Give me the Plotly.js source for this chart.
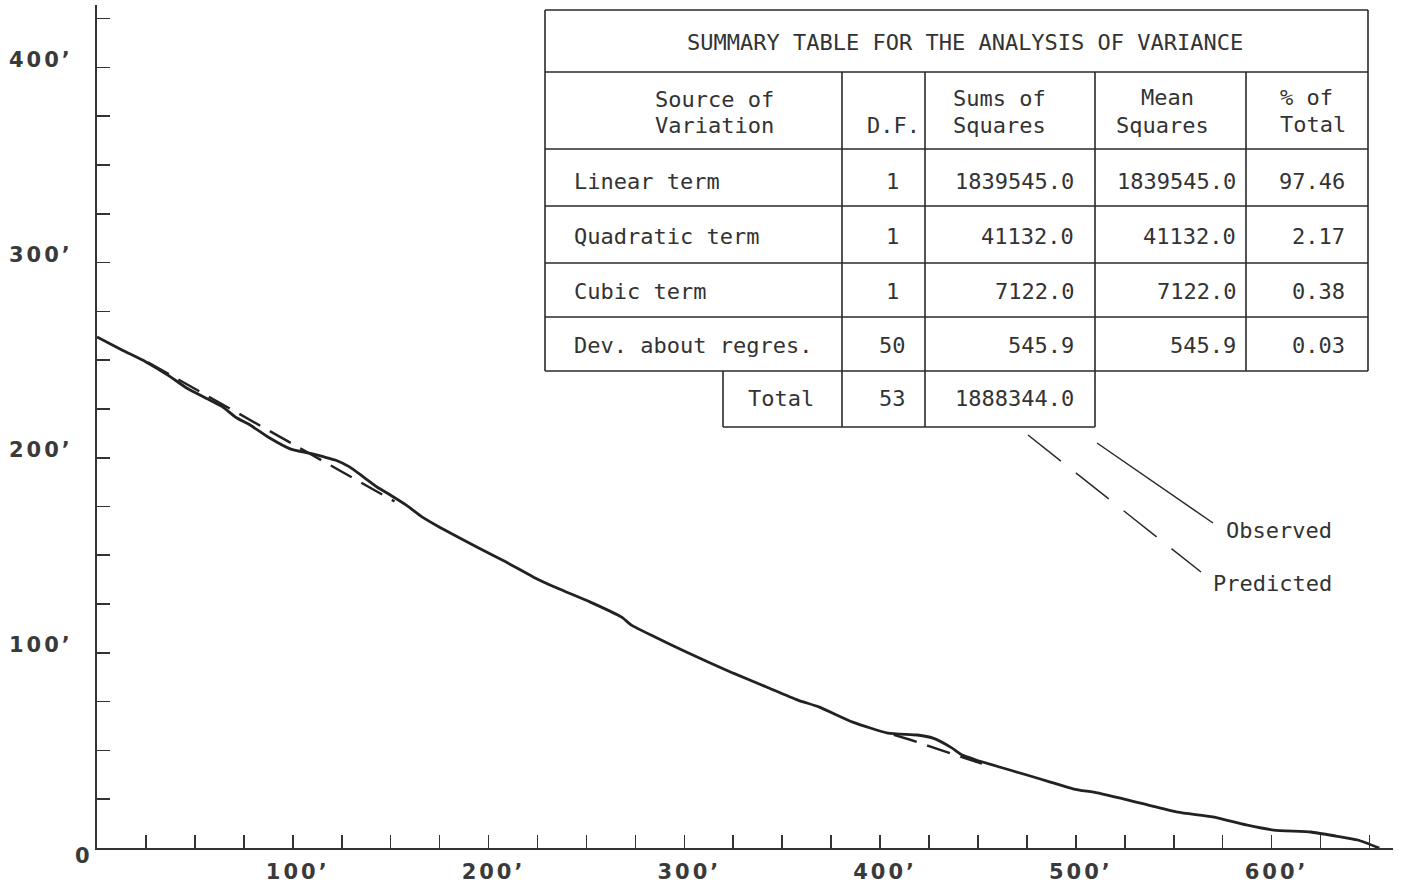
<!DOCTYPE html>
<html>
<head>
<meta charset="utf-8">
<script src="https://cdn.plot.ly/plotly-3.0.1.min.js"></script>
<style>
  html, body { margin: 0; padding: 0; background: #fff; }
  #chart { width: 1402px; height: 887px; }
  .xtick text, .ytick text { letter-spacing: 3px; }
</style>
</head>
<body>
<div id="chart"></div>
<script>
// ---- Data ----
const observedX = [0, 13, 25, 37, 46, 56, 64, 71, 78, 88, 99, 109, 116, 122, 129, 136, 143, 150, 158, 166, 175, 194, 209, 223, 235, 252, 268, 273, 284, 301, 325, 342, 358, 369, 386, 404, 419, 427, 436, 442, 449, 461, 475, 487, 499, 511, 533, 552, 570, 587, 601, 620, 633, 644, 655];
const observedY = [261.9, 255.1, 249.1, 241.8, 235.6, 230.4, 226.2, 220.6, 216.9, 210.2, 204.4, 202.2, 200.4, 198.7, 195.3, 190.2, 185.0, 180.8, 175.7, 169.7, 164.4, 154.2, 146.5, 138.8, 133.2, 126.0, 118.3, 114.2, 108.6, 100.4, 89.6, 82.5, 75.8, 72.2, 64.5, 58.9, 57.9, 56.3, 51.7, 47.6, 45.1, 41.5, 37.4, 33.8, 30.2, 28.2, 23.0, 18.4, 15.9, 11.8, 9.2, 8.2, 6.1, 4.1, 0];

const predictedX = [26, 40, 55, 70, 85, 100, 115, 130, 145, 152, null, 407, 415, 425, 435, 445, 452];
const predictedY = [248.9, 240.9, 232.5, 224.0, 215.5, 207.0, 198.5, 190.0, 181.6, 177.6, null, 58.0, 55.6, 52.2, 48.9, 45.5, 43.2];

const xTickVals = [25,50,75,100,125,150,175,200,225,250,275,300,325,350,375,400,425,450,475,500,525,550,575,600,625,650];
const yTickVals = [25,50,75,100,125,150,175,200,225,250,275,300,325,350,375,400,425];
const labelledTicks = [100, 200, 300, 400, 500, 600];

// ANOVA table
const tableTitle = "SUMMARY TABLE FOR THE ANALYSIS OF VARIANCE";
const sources = ["Linear term", "Quadratic term", "Cubic term", "Dev. about regres."];
const degreesOfFreedom = ["1", "1", "1", "50"];
const sumsOfSquares = ["1839545.0", "41132.0", "7122.0", "545.9"];
const meanSquares = ["1839545.0", "41132.0", "7122.0", "545.9"];
const pctOfTotal = ["97.46", "2.17", "0.38", "0.03"];
const totalLabel = "Total";
const totalDF = "53";
const totalSS = "1888344.0";

// ---- Layout helpers (pixel -> paper) ----
const L = 97, R = 9, T = 5, B = 39, W = 1402, H = 887;
const PW = W - L - R, PH = H - T - B;
const px = x => (x - L) / PW;
const py = y => (H - B - y) / PH;

const lineCol = '#2a2a2a';
const txtCol = '#333333';
const monoFont = {family: 'DejaVu Sans Mono', size: 22, color: txtCol};

const shapes = [];
function hline(y, x0, x1) {
  shapes.push({type: 'line', xref: 'paper', yref: 'paper', x0: px(x0), x1: px(x1), y0: py(y), y1: py(y), line: {color: lineCol, width: 1.6}});
}
function vline(x, y0, y1) {
  shapes.push({type: 'line', xref: 'paper', yref: 'paper', x0: px(x), x1: px(x), y0: py(y0), y1: py(y1), line: {color: lineCol, width: 1.6}});
}
// table grid
const tL = 545, tR = 1368, tTop = 10, tBot = 371, totBot = 427, totLeft = 723;
const colX = [842, 925, 1095, 1246];
const rowY = [72, 149, 206, 263, 317];
hline(tTop, tL, tR); hline(tBot, tL, tR);
vline(tL, tTop, tBot); vline(tR, tTop, tBot);
rowY.forEach(y => hline(y, tL, tR));
vline(colX[0], 72, totBot); vline(colX[1], 72, totBot); vline(colX[2], 72, totBot); vline(colX[3], 72, tBot);
hline(totBot, totLeft, colX[2]); vline(totLeft, tBot, totBot);

// leader lines
shapes.push({type: 'line', xref: 'paper', yref: 'paper', x0: px(1097), y0: py(443), x1: px(1213), y1: py(523), line: {color: lineCol, width: 1.5}});
shapes.push({type: 'line', xref: 'paper', yref: 'paper', x0: px(1028), y0: py(435), x1: px(1201), y1: py(572), line: {color: lineCol, width: 1.5, dash: '42px,19px'}});

const annotations = [];
function txt(text, x, y, anchor) {
  annotations.push({text: text, xref: 'paper', yref: 'paper', x: px(x), y: py(y), xanchor: anchor, yanchor: 'middle', showarrow: false, font: monoFont});
}
txt(tableTitle, 965, 43, 'center');
txt("Source of", 714, 100, 'center');
txt("Variation", 714, 126, 'center');
txt("D.F.", 922, 126, 'right');
txt("Sums of", 951, 99, 'left');
txt("Squares", 951, 126, 'left');
txt("Mean", 1167, 98, 'center');
txt("Squares", 1162, 126, 'center');
txt("% of", 1278, 98, 'left');
txt("Total", 1278, 125, 'left');
const rowCY = [181, 236, 291, 345];
sources.forEach((s, i) => {
  txt(s, 572, rowCY[i], 'left');
  txt(degreesOfFreedom[i], 892, rowCY[i], 'center');
  txt(sumsOfSquares[i], 1076, rowCY[i], 'right');
  txt(meanSquares[i], 1238, rowCY[i], 'right');
  txt(pctOfTotal[i], 1347, rowCY[i], 'right');
});
txt(totalLabel, 816, 398, 'right');
txt(totalDF, 892, 398, 'center');
txt(totalSS, 1076, 398, 'right');
txt("Observed", 1224, 530, 'left');
txt("Predicted", 1211, 583, 'left');
// origin label
annotations.push({text: "0", xref: 'paper', yref: 'paper', x: px(82), y: py(856), xanchor: 'center', yanchor: 'middle', showarrow: false,
  font: {family: 'DejaVu Sans', size: 21, color: '#3a3a3a', weight: 700}});

const tickLabel = v => labelledTicks.includes(v) ? v + "\u2019" : "";

const traces = [
  {x: observedX, y: observedY, type: 'scatter', mode: 'lines', name: 'Observed',
   line: {color: '#222', width: 2.8, shape: 'spline', smoothing: 0.5}},
  {x: predictedX, y: predictedY, type: 'scatter', mode: 'lines', name: 'Predicted', connectgaps: false,
   line: {color: '#222', width: 2.4, dash: '24px,11px'}}
];

const axisFont = {family: 'DejaVu Sans', size: 21, color: '#3a3a3a', weight: 700};
const layout = {
  width: W, height: H,
  margin: {l: L, r: R, t: T, b: B, pad: 0},
  paper_bgcolor: '#fff', plot_bgcolor: '#fff',
  showlegend: false,
  xaxis: {range: [0, 662], showgrid: false, zeroline: false, showline: true, linecolor: '#333', linewidth: 2,
    ticks: 'inside', ticklen: 13, tickwidth: 1.6, tickcolor: '#333',
    tickmode: 'array', tickvals: xTickVals, ticktext: xTickVals.map(tickLabel),
    tickfont: axisFont, ticklabelstandoff: 4, ticklabelshift: 5, fixedrange: true},
  yaxis: {range: [0, 432], showgrid: false, zeroline: false, showline: true, linecolor: '#333', linewidth: 2,
    ticks: 'inside', ticklen: 13, tickwidth: 1.6, tickcolor: '#333',
    tickmode: 'array', tickvals: yTickVals, ticktext: yTickVals.map(tickLabel),
    tickfont: axisFont, ticklabelstandoff: 18, ticklabelshift: -8, fixedrange: true},
  shapes: shapes,
  annotations: annotations
};

Plotly.newPlot('chart', traces, layout, {displayModeBar: false, staticPlot: true});
</script>
</body>
</html>
